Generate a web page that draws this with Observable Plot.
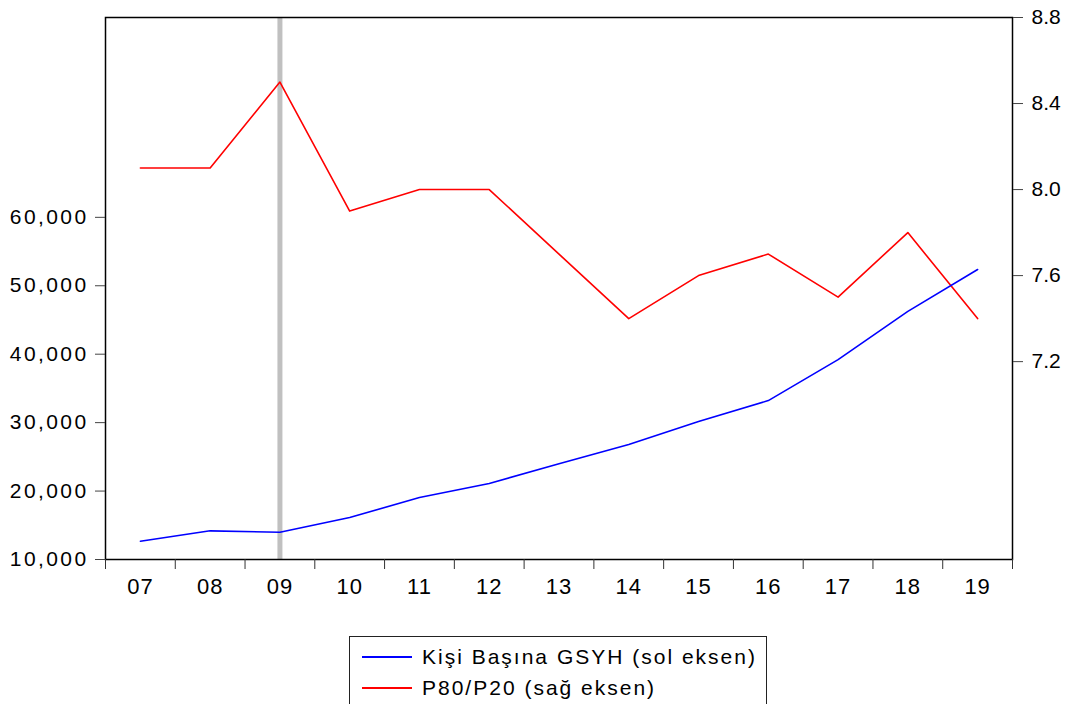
<!DOCTYPE html>
<html>
<head>
<meta charset="utf-8">
<script src="https://cdn.jsdelivr.net/npm/d3@7"></script>
<script src="https://cdn.jsdelivr.net/npm/@observablehq/plot@0.6"></script>
<style>
  html, body { margin: 0; padding: 0; background: #fff; overflow: hidden; }
  #chart { width: 1075px; height: 704px; position: relative; font-family: "Liberation Sans", Arial, sans-serif; }
  #legend {
    position: absolute; left: 349px; top: 636px; width: 418px; height: 90px;
    border: 1px solid #222; box-sizing: border-box; padding-top: 4px;
    font-size: 21px; letter-spacing: 2px; color: #000;
  }
  .row { display: flex; align-items: center; height: 31px; }
  .swatch { width: 50px; height: 0; border-top: 2px solid; margin-left: 12px; margin-right: 10px; }
</style>
</head>
<body>
<div id="chart"></div>
<script>
const years = [2007, 2008, 2009, 2010, 2011, 2012, 2013, 2014, 2015, 2016, 2017, 2018, 2019];
const gdpPerCapita = [12670, 14190, 13990, 16130, 19060, 21100, 24000, 26800, 30160, 33220, 39210, 46250, 52380];
const p80p20 = [8.1, 8.1, 8.5, 7.9, 8.0, 8.0, 7.7, 7.4, 7.6, 7.7, 7.5, 7.8, 7.4];
const leftTicks = [10000, 20000, 30000, 40000, 50000, 60000];
const rightTicks = [7.2, 7.6, 8.0, 8.4, 8.8];
const markedYears = [2009];
const seriesNames = ["Kişi Başına GSYH (sol eksen)", "P80/P20 (sağ eksen)"];
const seriesColors = ["#0000ff", "#ff0000"];

const leftDomain = [10000, 89200];
const rightDomain = [6.28, 8.8];
const toLeft = v => leftDomain[0] + (v - rightDomain[0]) / (rightDomain[1] - rightDomain[0]) * (leftDomain[1] - leftDomain[0]);
const fromLeft = v => rightDomain[0] + (v - leftDomain[0]) / (leftDomain[1] - leftDomain[0]) * (rightDomain[1] - rightDomain[0]);

const data = years.map((y, i) => ({year: y, gdp: gdpPerCapita[i], ratio: p80p20[i], ratioL: toLeft(p80p20[i])}));
const boundaries = years.map(y => y - 0.5).concat([years[years.length - 1] + 0.5]);

const chart = Plot.plot({
  width: 1075,
  height: 620,
  marginLeft: 105,
  marginRight: 63,
  marginTop: 17,
  marginBottom: 61,
  style: {fontFamily: "'Liberation Sans', Arial, sans-serif", fontSize: "20px", color: "#000", background: "#fff"},
  x: {type: "linear", domain: [years[0] - 0.5, years[years.length - 1] + 0.5], label: null},
  y: {domain: leftDomain, label: null},
  marks: [
    Plot.ruleX(markedYears, {stroke: "#c0c0c0", strokeWidth: 5}),
    Plot.line(data, {x: "year", y: "ratioL", stroke: seriesColors[1], strokeWidth: 1.6}),
    Plot.line(data, {x: "year", y: "gdp", stroke: seriesColors[0], strokeWidth: 1.6}),
    Plot.frame({stroke: "#000", strokeWidth: 1.5}),
    Plot.axisY(leftTicks, {anchor: "left", label: null, tickSize: 10, tickPadding: 7, tickFormat: d3.format(","), stroke: "#444", fontSize: 21}),
    Plot.axisY(rightTicks.map(toLeft), {anchor: "right", label: null, tickSize: 10, tickPadding: 9, tickFormat: d => fromLeft(d).toFixed(1), stroke: "#444", fontSize: 21}),
    Plot.axisX(boundaries, {anchor: "bottom", label: null, tickSize: 10, tickFormat: () => "", stroke: "#333"}),
    Plot.axisX(years, {anchor: "bottom", label: null, tickSize: 0, tickPadding: 19, tickFormat: d => String(d).slice(2), fontSize: 22})
  ]
});

chart.querySelectorAll('g[aria-label="y-axis tick label"]').forEach(g => {
  if (g.getAttribute("text-anchor") === "end") g.setAttribute("letter-spacing", "2.4px");
});
chart.querySelectorAll('g[aria-label="x-axis tick label"]').forEach(g => g.setAttribute("letter-spacing", "1px"));

const container = document.getElementById("chart");
container.appendChild(chart);

const legend = document.createElement("div");
legend.id = "legend";
seriesNames.forEach((name, i) => {
  const row = document.createElement("div");
  row.className = "row";
  const sw = document.createElement("span");
  sw.className = "swatch";
  sw.style.borderTopColor = seriesColors[i];
  const t = document.createElement("span");
  t.textContent = name;
  row.appendChild(sw);
  row.appendChild(t);
  legend.appendChild(row);
});
container.appendChild(legend);
</script>
</body>
</html>
